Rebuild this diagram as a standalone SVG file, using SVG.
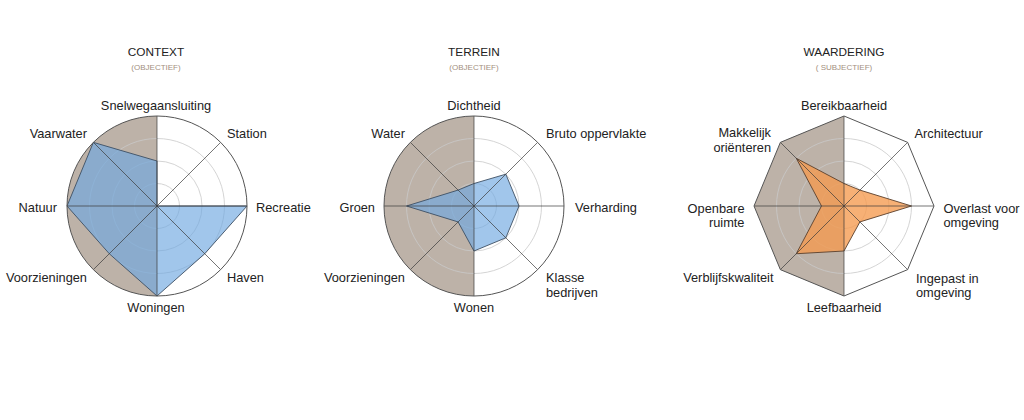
<svg xmlns="http://www.w3.org/2000/svg" width="1024" height="420" viewBox="0 0 1024 420">
<style>
text{font-family:"Liberation Sans","DejaVu Sans",sans-serif;fill:#222}
.lbl{font-size:12.8px}
.ttl{font-size:11.8px;text-anchor:middle}
.sub{font-size:8px;text-anchor:middle;fill:#a38f80}
.bg{fill:#bdb2a8}
.ring{fill:none;stroke:#c9c9c9;stroke-width:0.8}
.spoke{stroke:#3a3a3a;stroke-width:0.7}
.outer{fill:none;stroke:#555;stroke-width:1}
.blue{fill:#6fa8e0;fill-opacity:0.65;stroke:#3d4f63;stroke-width:0.9;stroke-linejoin:round}
.orange{fill:#f59a4e;fill-opacity:0.78;stroke:#5a3f2c;stroke-width:0.9;stroke-linejoin:round}
.m{text-anchor:middle}
.e{text-anchor:end}
</style>
<rect width="1024" height="420" fill="#fff"/>

<g id="context" transform="translate(157,206)">
  <text class="ttl" x="-1" y="-150.3">CONTEXT</text>
  <text class="sub" x="-1" y="-136">(OBJECTIEF)</text>
  <circle r="90" fill="#fff"/>
  <path class="bg" d="M0,-90 A90,90 0 0,0 0,90 Z"/>
  <circle class="ring" r="22.5"/><circle class="ring" r="45"/><circle class="ring" r="67.5"/>
  <polygon class="blue" points="0,-45 0,0 90,0 47.73,47.73 0,90 -47.73,47.73 -90,0 -63.64,-63.64"/>
  <g class="spoke">
    <line x1="0" y1="0" x2="0" y2="-90"/><line x1="0" y1="0" x2="63.64" y2="-63.64"/>
    <line x1="0" y1="0" x2="90" y2="0"/><line x1="0" y1="0" x2="63.64" y2="63.64"/>
    <line x1="0" y1="0" x2="0" y2="90"/><line x1="0" y1="0" x2="-63.64" y2="63.64"/>
    <line x1="0" y1="0" x2="-90" y2="0"/><line x1="0" y1="0" x2="-63.64" y2="-63.64"/>
  </g>
  <circle class="outer" r="90"/>
  <text class="lbl m" x="-1" y="-96.5">Snelwegaansluiting</text>
  <text class="lbl" x="70" y="-67.7">Station</text>
  <text class="lbl" x="99" y="5.7">Recreatie</text>
  <text class="lbl" x="70" y="76.3">Haven</text>
  <text class="lbl m" x="-1" y="105.7">Woningen</text>
  <text class="lbl e" x="-70" y="76.3">Voorzieningen</text>
  <text class="lbl e" x="-100" y="5.7">Natuur</text>
  <text class="lbl e" x="-70" y="-67.7">Vaarwater</text>
</g>

<g id="terrein" transform="translate(474,206)">
  <text class="ttl" x="0" y="-150.3">TERREIN</text>
  <text class="sub" x="0" y="-136">(OBJECTIEF)</text>
  <circle r="90" fill="#fff"/>
  <path class="bg" d="M0,-90 A90,90 0 0,0 0,90 Z"/>
  <circle class="ring" r="22.5"/><circle class="ring" r="45"/><circle class="ring" r="67.5"/>
  <polygon class="blue" points="0,-22.5 31.82,-31.82 45,0 31.82,31.82 0,45 -15.91,15.91 -67.5,0 -15.91,-15.91"/>
  <g class="spoke">
    <line x1="0" y1="0" x2="0" y2="-90"/><line x1="0" y1="0" x2="63.64" y2="-63.64"/>
    <line x1="0" y1="0" x2="90" y2="0"/><line x1="0" y1="0" x2="63.64" y2="63.64"/>
    <line x1="0" y1="0" x2="0" y2="90"/><line x1="0" y1="0" x2="-63.64" y2="63.64"/>
    <line x1="0" y1="0" x2="-90" y2="0"/><line x1="0" y1="0" x2="-63.64" y2="-63.64"/>
  </g>
  <circle class="outer" r="90"/>
  <text class="lbl m" x="0" y="-96.5">Dichtheid</text>
  <text class="lbl" x="72" y="-67.7">Bruto oppervlakte</text>
  <text class="lbl" x="101" y="5.7">Verharding</text>
  <text class="lbl" x="72" y="76.3">Klasse</text>
  <text class="lbl" x="72" y="90.8">bedrijven</text>
  <text class="lbl m" x="0" y="105.7">Wonen</text>
  <text class="lbl e" x="-69" y="76.3">Voorzieningen</text>
  <text class="lbl e" x="-99" y="5.7">Groen</text>
  <text class="lbl e" x="-69" y="-67.7">Water</text>
</g>

<g id="waardering" transform="translate(844,206)">
  <text class="ttl" x="0" y="-150.3">WAARDERING</text>
  <text class="sub" x="0" y="-136">( SUBJECTIEF)</text>
  <polygon fill="#fff" points="0,-90 63.64,-63.64 90,0 63.64,63.64 0,90 -63.64,63.64 -90,0 -63.64,-63.64"/>
  <path class="bg" d="M0,-90 L-63.64,-63.64 L-90,0 L-63.64,63.64 L0,90 Z"/>
  <circle class="ring" r="22.5"/><circle class="ring" r="45"/><circle class="ring" r="67.5"/>
  <polygon class="orange" points="0,-22.5 15.91,-15.91 67.5,0 15.91,15.91 0,45 -47.73,47.73 -22.5,0 -47.73,-47.73"/>
  <g class="spoke">
    <line x1="0" y1="0" x2="0" y2="-90"/><line x1="0" y1="0" x2="63.64" y2="-63.64"/>
    <line x1="0" y1="0" x2="90" y2="0"/><line x1="0" y1="0" x2="63.64" y2="63.64"/>
    <line x1="0" y1="0" x2="0" y2="90"/><line x1="0" y1="0" x2="-63.64" y2="63.64"/>
    <line x1="0" y1="0" x2="-90" y2="0"/><line x1="0" y1="0" x2="-63.64" y2="-63.64"/>
  </g>
  <polygon class="outer" points="0,-90 63.64,-63.64 90,0 63.64,63.64 0,90 -63.64,63.64 -90,0 -63.64,-63.64"/>
  <text class="lbl m" x="0" y="-96.5">Bereikbaarheid</text>
  <text class="lbl" x="70.5" y="-67.7">Architectuur</text>
  <text class="lbl" x="99.5" y="6.5">Overlast voor</text>
  <text class="lbl" x="99.5" y="20.5">omgeving</text>
  <text class="lbl" x="72" y="77">Ingepast in</text>
  <text class="lbl" x="72" y="91">omgeving</text>
  <text class="lbl m" x="0" y="105.7">Leefbaarheid</text>
  <text class="lbl e" x="-70.5" y="76.3">Verblijfskwaliteit</text>
  <text class="lbl e" x="-99.5" y="6.5">Openbare</text>
  <text class="lbl e" x="-99.5" y="20.5">ruimte</text>
  <text class="lbl e" x="-73" y="-69">Makkelijk</text>
  <text class="lbl e" x="-73" y="-54.5">oriënteren</text>
</g>
</svg>
